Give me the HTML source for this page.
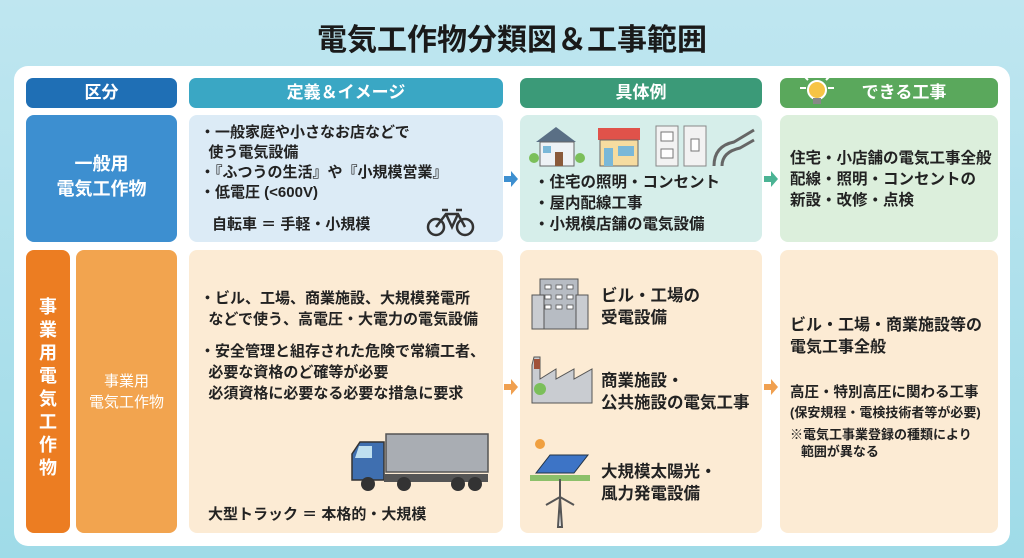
<!DOCTYPE html>
<html><head><meta charset="utf-8"><style>
*{margin:0;padding:0;box-sizing:border-box}
body{width:1024px;height:558px;overflow:hidden;background:linear-gradient(180deg,#bfe6f0,#9fdbe8);font-family:"Liberation Sans","Noto Sans CJK JP",sans-serif;position:relative;color:#222}
.a{position:absolute}
.title{left:0;width:1024px;top:15px;text-align:center;font-size:30px;font-weight:bold;color:#1a1a1a}
.panel{left:14px;top:66px;width:996px;height:480px;background:#fff;border-radius:14px}
.hd{top:78px;height:30px;border-radius:7px;color:#fff;font-size:17px;font-weight:bold;text-align:center;line-height:30px}
.box{border-radius:8px}
.t{font-weight:bold;font-size:14.5px;line-height:20px;position:absolute}
.arr{width:14px;height:16px}
</style></head><body>
<div class="a title">電気工作物分類図＆工事範囲</div>
<div class="a panel"></div>

<div class="a hd" style="left:26px;width:151px;background:#1f6fb5">区分</div>
<div class="a hd" style="left:189px;width:314px;background:#3aa7c4">定義＆イメージ</div>
<div class="a hd" style="left:520px;width:242px;background:#3b9a78">具体例</div>
<div class="a hd" style="left:780px;width:218px;background:#5aa85c;padding-left:30px">できる工事</div>
<svg class="a" style="left:798px;top:68px" width="38" height="42"><g stroke="#fff" stroke-width="2"><path d="M19 2 L19 8 M6 8 L10 12 M32 8 L28 12 M2 20 L8 20 M36 20 L30 20"/></g><circle cx="19" cy="22" r="9" fill="#f6c445" stroke="#fff" stroke-width="2"/><rect x="15" y="30" width="8" height="6" fill="#888"/></svg>

<!-- row1 -->
<div class="a box" style="left:26px;top:115px;width:151px;height:127px;background:#3d8fd0"></div>
<div class="a" style="left:26px;top:152px;width:151px;text-align:center;color:#fff;font-weight:bold;font-size:18px;line-height:25px">一般用<br>電気工作物</div>
<div class="a box" style="left:189px;top:115px;width:314px;height:127px;background:#dcebf6"></div>
<div class="t" style="left:200px;top:123px;font-size:15px">・一般家庭や小さなお店などで<br>&nbsp;&nbsp;使う電気設備<br>・『ふつうの生活』や『小規模営業』<br>・低電圧 (&lt;600V)</div>
<div class="t" style="left:212px;top:215px;font-size:15px">自転車 ＝ 手軽・小規模</div>
<svg class="a" style="left:426px;top:206px" width="50" height="32"><g fill="none" stroke="#333" stroke-width="2.5"><circle cx="10" cy="21" r="8"/><circle cx="39" cy="21" r="8"/><path d="M10 21 L20 8 L32 8 L39 21 M20 8 L26 21 L32 8 M16 4 L22 4 M30 4 L36 4"/></g></svg>
<svg class="a arr" style="left:504px;top:171px"><path d="M0 5 H7 V0 L14 8 L7 16 V11 H0 Z" fill="#3d8fd0"/></svg>

<div class="a box" style="left:520px;top:115px;width:242px;height:127px;background:#d6eeea"></div>
<svg class="a" style="left:528px;top:122px" width="230" height="46">
<path d="M8 20 L28 5 L48 20 Z" fill="#5a6f85"/><rect x="12" y="20" width="34" height="24" fill="#eef2f5" stroke="#666"/><rect x="27" y="30" width="8" height="14" fill="#8a5a3a"/><rect x="15" y="24" width="8" height="7" fill="#7ab8d8"/><circle cx="6" cy="36" r="5" fill="#7bbf5a"/><circle cx="52" cy="36" r="5" fill="#7bbf5a"/>
<rect x="70" y="6" width="42" height="12" fill="#e0524a"/><rect x="72" y="18" width="38" height="26" fill="#f6dca0" stroke="#666"/><rect x="76" y="26" width="9" height="18" fill="#7ab8d8"/><rect x="90" y="24" width="16" height="10" fill="#7ab8d8"/>
<rect x="128" y="4" width="22" height="40" fill="#f2f2f2" stroke="#888"/><rect x="133" y="10" width="12" height="9" fill="#fff" stroke="#777"/><rect x="133" y="27" width="12" height="9" fill="#fff" stroke="#777"/>
<rect x="156" y="4" width="22" height="40" fill="#f2f2f2" stroke="#888"/><rect x="163" y="17" width="8" height="12" fill="#fff" stroke="#777"/>
<path d="M186 44 Q186 24 206 20 L226 8 M194 44 Q194 30 212 26 L226 18" fill="none" stroke="#666" stroke-width="3"/>
</svg>
<div class="t" style="left:534px;top:172px;font-size:15.5px;line-height:21px">・住宅の照明・コンセント<br>・屋内配線工事<br>・小規模店舗の電気設備</div>
<svg class="a arr" style="left:764px;top:171px"><path d="M0 5 H7 V0 L14 8 L7 16 V11 H0 Z" fill="#4bb394"/></svg>

<div class="a box" style="left:780px;top:115px;width:218px;height:127px;background:#dcefdc"></div>
<div class="t" style="left:790px;top:148px;font-size:15.5px;line-height:21px">住宅・小店舗の電気工事全般<br>配線・照明・コンセントの<br>新設・改修・点検</div>

<!-- row2 -->
<div class="a box" style="left:26px;top:250px;width:44px;height:283px;background:#ec7d22"></div>
<div class="a" style="left:26px;top:296px;width:44px;text-align:center;color:#fff;font-weight:bold;font-size:18px;line-height:23px">事<br>業<br>用<br>電<br>気<br>工<br>作<br>物</div>
<div class="a box" style="left:76px;top:250px;width:101px;height:283px;background:#f2a44f"></div>
<div class="a" style="left:76px;top:371px;width:101px;text-align:center;color:#fff;font-size:15px;line-height:21px">事業用<br>電気工作物</div>
<div class="a box" style="left:189px;top:250px;width:314px;height:283px;background:#fcebd4"></div>
<div class="t" style="left:200px;top:288px;font-size:15px;line-height:21px">・ビル、工場、商業施設、大規模発電所<br>&nbsp;&nbsp;などで使う、高電圧・大電力の電気設備</div>
<div class="t" style="left:200px;top:341px;font-size:15px;line-height:21px">・安全管理と組存された危険で常續工者、<br>&nbsp;&nbsp;必要な資格のど確等が必要<br>&nbsp;&nbsp;必須資格に必要なる必要な措急に要求</div>
<svg class="a" style="left:348px;top:432px" width="142" height="64">
<rect x="38" y="2" width="102" height="38" fill="#a9adb3" stroke="#555" stroke-width="1.5"/>
<path d="M4 48 L4 22 L12 10 L36 10 L36 48 Z" fill="#3f6fb0" stroke="#333" stroke-width="1.5"/><path d="M11 14 L24 14 L24 26 L7 26 Z" fill="#bfe0f0"/>
<rect x="36" y="42" width="104" height="8" fill="#555"/>
<circle cx="20" cy="52" r="7" fill="#333"/><circle cx="56" cy="52" r="7" fill="#333"/><circle cx="110" cy="52" r="7" fill="#333"/><circle cx="127" cy="52" r="7" fill="#333"/>
</svg>
<div class="t" style="left:208px;top:505px;font-size:15px">大型トラック ＝ 本格的・大規模</div>
<svg class="a arr" style="left:504px;top:379px"><path d="M0 5 H7 V0 L14 8 L7 16 V11 H0 Z" fill="#f0a050"/></svg>

<div class="a box" style="left:520px;top:250px;width:242px;height:283px;background:#fcebd4"></div>
<svg class="a" style="left:530px;top:275px" width="66" height="260">
<rect x="10" y="4" width="38" height="50" fill="#b7bcc3" stroke="#555"/><rect x="2" y="20" width="12" height="34" fill="#c9ccd1" stroke="#555"/><rect x="46" y="20" width="12" height="34" fill="#c9ccd1" stroke="#555"/>
<g fill="#fff" stroke="#555" stroke-width=".8"><rect x="15" y="10" width="6" height="4"/><rect x="26" y="10" width="6" height="4"/><rect x="37" y="10" width="6" height="4"/><rect x="15" y="20" width="6" height="4"/><rect x="26" y="20" width="6" height="4"/><rect x="37" y="20" width="6" height="4"/><rect x="15" y="30" width="6" height="4"/><rect x="26" y="30" width="6" height="4"/><rect x="37" y="30" width="6" height="4"/></g>
<path d="M2 90 L2 128 L62 128 L62 94 L44 104 L44 94 L26 104 L26 94 L10 104 L10 82 L4 82 Z" fill="#c9ccd1" stroke="#555"/><rect x="4" y="84" width="6" height="10" fill="#a0523a"/><circle cx="10" cy="114" r="6" fill="#7bbf5a"/>
<circle cx="10" cy="169" r="5" fill="#f0a040"/>
<path d="M6 198 L20 180 L58 180 L44 198 Z" fill="#3d74c6" stroke="#234"/><rect x="0" y="200" width="60" height="6" fill="#8cc06a"/>
<path d="M28 252 L30 222 L32 252 Z M30 222 L30 204 M30 222 L16 230 M30 222 L44 230" stroke="#555" stroke-width="2" fill="#eee"/>
</svg>
<div class="t" style="left:601px;top:285px;font-size:16.5px;line-height:22px">ビル・工場の<br>受電設備</div>
<div class="t" style="left:601px;top:370px;font-size:16.5px;line-height:22px">商業施設・<br>公共施設の電気工事</div>
<div class="t" style="left:601px;top:461px;font-size:16.5px;line-height:22px">大規模太陽光・<br>風力発電設備</div>
<svg class="a arr" style="left:764px;top:379px"><path d="M0 5 H7 V0 L14 8 L7 16 V11 H0 Z" fill="#f0a050"/></svg>

<div class="a box" style="left:780px;top:250px;width:218px;height:283px;background:#fcebd4"></div>
<div class="t" style="left:790px;top:315px;font-size:16px;line-height:22px">ビル・工場・商業施設等の<br>電気工事全般</div>
<div class="t" style="left:790px;top:384px;font-size:14.5px;line-height:19px">高圧・特別高圧に関わる工事<br><span style="font-size:13px">(保安規程・電検技術者等が必要)</span></div>
<div class="t" style="left:790px;top:426px;font-size:13px;line-height:17px">※電気工事業登録の種類により<br>&nbsp;&nbsp;&nbsp;範囲が異なる</div>
</body></html>
